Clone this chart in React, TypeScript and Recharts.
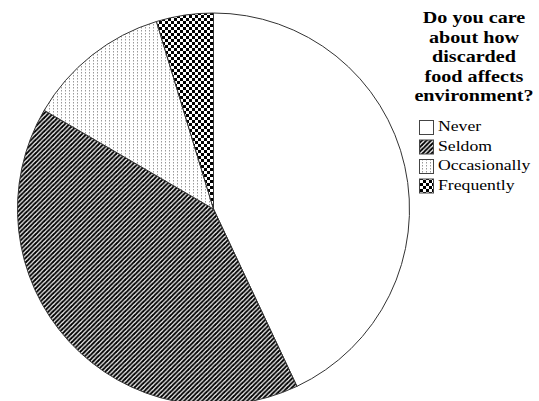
import React from 'react';
import { PieChart, Pie, Cell, Legend } from 'recharts';

const categories = ['Never', 'Seldom', 'Occasionally', 'Frequently'];
const values = [43.0, 40.4, 11.9, 4.7];
const titleLines = ['Do you care', 'about how', 'discarded', 'food affects', 'environment?'];
const fills = ['#ffffff', 'url(#pat-seldom)', 'url(#pat-occ)', 'url(#pat-freq)'];

const data = categories.map((name, i) => ({ name, value: values[i] }));

const SX = 1.22;
const P = 4.5;
const SW = 2.0;

const renderLegend = (props: any) => {
  const payload = [...(props.payload || [])].sort(
    (a: any, b: any) => categories.indexOf(a.value) - categories.indexOf(b.value)
  );
  return (
    <svg width={134} height={200} style={{ display: 'block', overflow: 'visible' }}>
      <defs>
        <pattern id="pat-seldom" patternUnits="userSpaceOnUse" width={P} height={P}>
          <rect x={0} y={0} width={P} height={P} fill="#fff" />
          <line x1={-1} y1={P + 1} x2={P + 1} y2={-1} stroke="#000" strokeWidth={SW} />
          <line x1={-1} y1={1} x2={1} y2={-1} stroke="#000" strokeWidth={SW} />
          <line x1={P - 1} y1={P + 1} x2={P + 1} y2={P - 1} stroke="#000" strokeWidth={SW} />
        </pattern>
        <pattern id="pat-occ" patternUnits="userSpaceOnUse" width={4} height={3}>
          <rect x={0} y={0} width={4} height={3} fill="#fff" />
          <rect x={1} y={0} width={1} height={1.5} fill="#999" />
        </pattern>
        <pattern id="pat-freq" patternUnits="userSpaceOnUse" width={6} height={6}>
          <rect x={0} y={0} width={6} height={6} fill="#fff" />
          <rect x={0} y={0} width={3} height={3} fill="#000" />
          <rect x={3} y={3} width={3} height={3} fill="#000" />
        </pattern>
      </defs>
      {titleLines.map((t, i) => (
        <text
          key={t}
          transform={`translate(69, ${23 + i * 19.6}) scale(${SX},1)`}
          textAnchor="middle"
          fontFamily="'Liberation Serif', 'Times New Roman', serif"
          fontWeight="bold"
          fontSize={16.5}
          fill="#000"
        >
          {t}
        </text>
      ))}
      {payload.map((entry: any, i: number) => {
        const top = 120.5 + i * 19.5;
        return (
          <g key={entry.value}>
            <rect x={14.5} y={top} width={14} height={14} fill={fills[categories.indexOf(entry.value)]} stroke="#444" strokeWidth={1} />
            <text
              transform={`translate(33, ${top + 10.5}) scale(${SX},1)`}
              fontFamily="'Liberation Serif', 'Times New Roman', serif"
              fontSize={14.5}
              fill="#000"
            >
              {entry.value}
            </text>
          </g>
        );
      })}
    </svg>
  );
};

export default function App() {
  return (
    <div style={{ position: 'absolute', left: 0, top: 0, width: 539, height: 401, background: '#fff' }}>
      <PieChart width={539} height={401} margin={{ top: 0, right: 0, bottom: 0, left: 0 }}>
        <Pie
          data={data}
          dataKey="value"
          nameKey="name"
          cx={213.5}
          cy={209}
          outerRadius={196}
          startAngle={90}
          endAngle={-270}
          stroke="#333"
          strokeWidth={1}
          isAnimationActive={false}
          legendType="square"
        >
          {data.map((d, i) => (
            <Cell key={d.name} fill={fills[i]} />
          ))}
        </Pie>
        <Legend
          layout="vertical"
          align="right"
          verticalAlign="top"
          content={renderLegend}
          wrapperStyle={{ position: 'absolute', left: 405, top: 0, width: 134, height: 200 }}
        />
      </PieChart>
    </div>
  );
}
